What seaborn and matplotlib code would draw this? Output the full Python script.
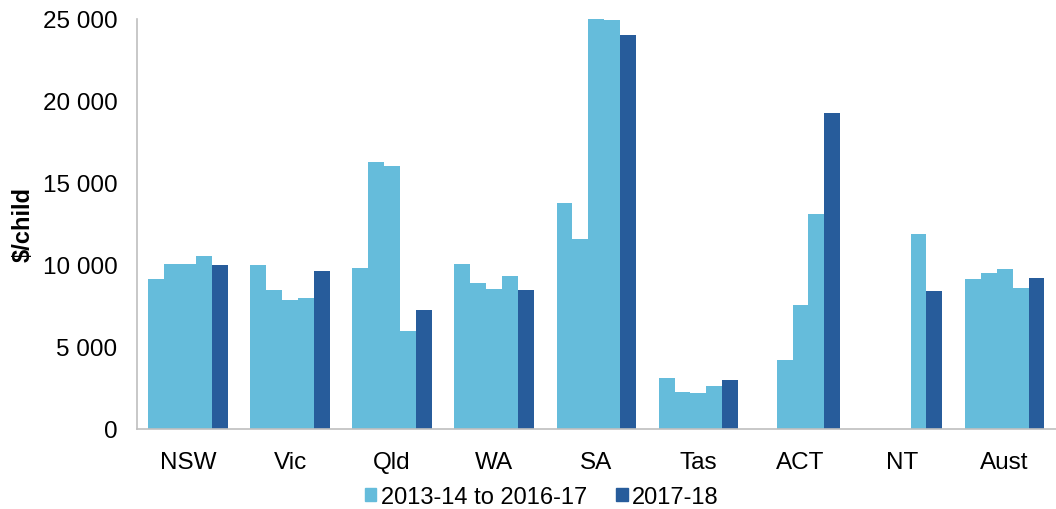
import numpy as np
import pandas as pd
import seaborn as sns
import matplotlib.pyplot as plt
from matplotlib.patches import Patch
from matplotlib.ticker import FuncFormatter

states = ['NSW', 'Vic', 'Qld', 'WA', 'SA', 'Tas', 'ACT', 'NT', 'Aust']
years = ['2013-14', '2014-15', '2015-16', '2016-17', '2017-18']

# $/child, one list per year (NaN = no bar shown)
v_2013 = [9150, 10000, 9820, 10050, 13770, 3100, np.nan, np.nan, 9150]
v_2014 = [10080, 8450, 16280, 8900, 11610, 2260, 4200, np.nan, 9530]
v_2015 = [10050, 7860, 16050, 8550, 25000, 2220, 7560, np.nan, 9780]
v_2016 = [10560, 8000, 5990, 9300, 24960, 2600, 13100, 11860, 8620]
v_2017 = [10000, 9620, 7230, 8500, 24020, 2980, 19250, 8420, 9190]

light = '#65BCDB'
dark = '#275C9B'

rows = []
for yr, vals in zip(years, [v_2013, v_2014, v_2015, v_2016, v_2017]):
    for st, v in zip(states, vals):
        rows.append({'state': st, 'year': yr, 'value': v})
df = pd.DataFrame(rows)

sns.set_style('white')
plt.rcParams['font.family'] = ['Liberation Sans', 'DejaVu Sans']
plt.rcParams['text.color'] = 'black'
plt.rcParams['axes.labelcolor'] = 'black'
plt.rcParams['xtick.color'] = 'black'
plt.rcParams['ytick.color'] = 'black'

fig = plt.figure(figsize=(10.56, 5.10), dpi=100)
ax = fig.add_axes([0.1297, 0.157, 0.87, 0.804])

sns.barplot(data=df, x='state', y='value', hue='year', order=states,
            hue_order=years, palette=[light] * 4 + [dark], width=0.78,
            saturation=1, linewidth=0, legend=False, ax=ax)

ax.set_ylim(0, 25000)
ax.set_yticks(range(0, 25001, 5000))
ax.yaxis.set_major_formatter(FuncFormatter(lambda v, p: f'{int(v):,}'.replace(',', ' ')))
ax.set_xlim(-0.5, len(states) - 0.5)
ax.set_xlabel('')
ax.set_ylabel('$/child', fontsize=17, fontweight='bold', labelpad=6)

for s in ['top', 'right']:
    ax.spines[s].set_visible(False)
for s in ['left', 'bottom']:
    ax.spines[s].set_color('#BFBFBF')
    ax.spines[s].set_linewidth(1.2)
ax.tick_params(axis='y', length=6, color='#BFBFBF', width=1.2, labelsize=17.5, pad=8)
ax.tick_params(axis='x', length=0, labelsize=17.5, pad=16)

handles = [Patch(color=light, label='2013-14 to 2016-17'),
           Patch(color=dark, label='2017-18')]
fig.legend(handles=handles, loc='lower center', bbox_to_anchor=(0.513, -0.04),
           ncol=2, frameon=False, fontsize=17, handlelength=0.5,
           handleheight=0.5, handletextpad=0.2, columnspacing=1.2)

fig.savefig('out.png', dpi=100)
